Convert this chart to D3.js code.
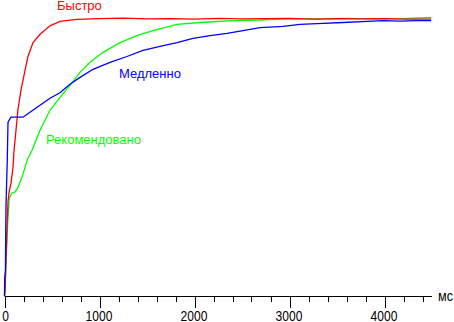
<!DOCTYPE html>
<html>
<head>
<meta charset="utf-8">
<script src="https://cdn.jsdelivr.net/npm/d3@7"></script>
<style>
  body { margin: 0; background: #fff; }
  svg { display: block; }
  .label { font-family: Arial, "Liberation Sans", sans-serif; font-size: 13px; }
  .tick-label { font-family: Arial, "Liberation Sans", sans-serif; font-size: 14px; }
</style>
</head>
<body>
<script>
// DATA (response, % of final value, vs time in ms)

const fastTime  = [0, 5, 26, 37, 47, 68, 89, 100, 142, 174, 216, 247, 300, 374, 479, 584, 763, 1005, 1250, 1500, 1750, 2000, 2250, 2500, 2750, 3000, 3250, 3500, 3750, 4000, 4250, 4490];
const fastValue = [0, 2, 24, 34, 37, 40.5, 46, 52, 67, 74, 81, 86, 91, 94, 97, 98.6, 99.3, 99.6, 99.8, 99.5, 99.6, 99.4, 99.7, 99.5, 99.6, 99.7, 99.4, 99.6, 99.5, 99.6, 99.4, 99.4];

const slowTime  = [0, 2, 10, 13, 16, 29, 37, 68, 195, 268, 374, 479, 584, 689, 795, 932, 1111, 1289, 1458, 1637, 1816, 1984, 2163, 2342, 2511, 2689, 2932, 3111, 3289, 3563, 3816, 3984, 4163, 4342, 4490];
const slowValue = [0, 6.5, 9, 22.6, 32.6, 48.7, 62.4, 64.2, 64.2, 66, 68.5, 71, 73, 76, 78.5, 81.4, 83.9, 86, 88.2, 89.6, 91, 92.5, 93.5, 94.3, 95.3, 96.4, 96.8, 97.5, 97.8, 98.2, 98.6, 98.9, 98.7, 98.9, 98.9];

const recTime   = [0, 8, 16, 34, 50, 76, 110, 142, 184, 216, 247, 290, 374, 479, 584, 689, 795, 900, 1037, 1216, 1395, 1563, 1816, 2058, 2405, 2689, 3000, 3300, 3600, 3900, 4200, 4490];
const recValue  = [0, 3.2, 12, 26.5, 35, 37, 37.3, 39, 42.7, 46.2, 49.5, 52.3, 59.5, 66.7, 71.3, 75.6, 80.3, 83.9, 87.5, 91, 93.5, 95.3, 97.5, 98.2, 98.9, 99.1, 99.6, 99.4, 99.7, 99.5, 99.6, 100];

const seriesNames  = ["Быстро", "Медленно", "Рекомендовано"];
const seriesColors = ["#ff0000", "#0000ff", "#00ff00"];

const xTicks = d3.range(0, 4500, 200);
const xLabels = [0, 1000, 2000, 3000, 4000];

// SVG
const w = 454, h = 322;
const svg = d3.select("body").append("svg")
  .attr("width", w)
  .attr("height", h);

const x = d3.scaleLinear().domain([0, 4500]).range([4.5, 432]);
const y = d3.scaleLinear().domain([0, 100]).range([296, 17.5]);

// x axis: baseline, ticks below (longer at the thousands), labels
svg.append("line")
  .attr("x1", x(0)).attr("x2", x(4500))
  .attr("y1", 296.5).attr("y2", 296.5)
  .attr("stroke", "#000");

svg.selectAll("line.tick")
  .data(xTicks)
  .enter()
  .append("line")
  .attr("class", "tick")
  .attr("x1", d => Math.round(x(d)) + 0.5)
  .attr("x2", d => Math.round(x(d)) + 0.5)
  .attr("y1", 296)
  .attr("y2", d => d % 1000 === 0 ? 308 : 302)
  .attr("stroke", "#000");

// narrow-looking labels: 14px font squeezed horizontally
svg.selectAll("text.tick-label")
  .data(xLabels)
  .enter()
  .append("text")
  .attr("class", "tick-label")
  .attr("transform", d => `translate(${d === 0 ? x(d) + 1 : x(d) - 0.5}, 321) scale(0.86, 1)`)
  .attr("text-anchor", "middle")
  .text(d => d);

svg.append("text")
  .attr("class", "tick-label")
  .attr("transform", "translate(438, 301) scale(0.9, 1)")
  .text("мс");

// curves
const line = d3.line()
  .x(d => x(d[0]))
  .y(d => y(d[1]));

const series = [
  d3.zip(fastTime, fastValue),
  d3.zip(slowTime, slowValue),
  d3.zip(recTime, recValue)
];

// draw order: green, red, blue
[2, 0, 1].forEach(i => {
  svg.append("path")
    .datum(series[i])
    .attr("fill", "none")
    .attr("stroke", seriesColors[i])
    .attr("stroke-width", 1.3)
    .attr("d", line);
});

// series labels
const labelPos = [[57, 10], [119, 78], [46, 144]];
svg.selectAll("text.label")
  .data(seriesNames)
  .enter()
  .append("text")
  .attr("class", "label")
  .attr("x", (d, i) => labelPos[i][0])
  .attr("y", (d, i) => labelPos[i][1])
  .attr("fill", (d, i) => seriesColors[i])
  .text(d => d);
</script>
</body>
</html>
